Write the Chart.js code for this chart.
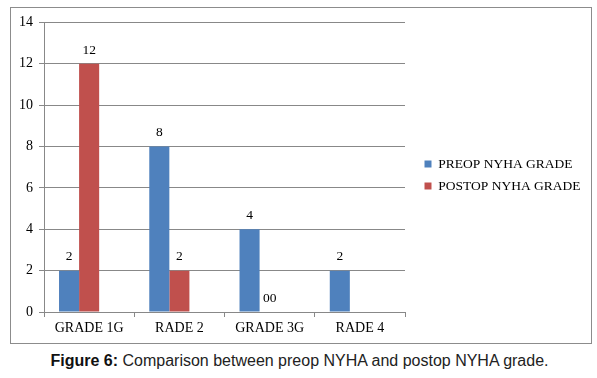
<!DOCTYPE html>
<html>
<head>
<meta charset="utf-8">
<script src="https://cdn.jsdelivr.net/npm/chart.js@4.4.1/dist/chart.umd.min.js"></script>
<style>
  body { margin: 0; background: #fff; width: 597px; height: 378px; position: relative; }
  #frame { position: absolute; left: 10px; top: 7px; width: 580px; height: 335px; border: 1px solid #8c8c8c; }
  #caption { position: absolute; left: 1px; top: 352px; width: 597px; text-align: center;
    font-family: "Liberation Sans", Arial, sans-serif; font-size: 16px; color: #222; }
  #caption b { color: #111; }
</style>
</head>
<body>
<div id="frame"><canvas id="chart" width="580" height="335"></canvas></div>
<div id="caption"><b>Figure 6:</b> Comparison between preop NYHA and postop NYHA grade.</div>
<script>
const categories = ["GRADE 1G", "RADE 2", "GRADE 3G", "RADE 4"];
const preop = [2, 8, 4, 2];
const postop = [12, 2, 0, null];
const emptySeries = [];
const preopLabels = ["2", "8", "4", "2"];
const postopLabels = ["12", "2", "00", ""];
const yTicks = [0, 2, 4, 6, 8, 10, 12, 14];

const serif = "'Liberation Serif', 'Times New Roman', serif";
const gridGray = "#888888";

// value labels above bars
const barLabels = {
  id: "barLabels",
  afterDatasetsDraw(chart) {
    const ctx = chart.ctx;
    const texts = [preopLabels, postopLabels];
    ctx.save();
    ctx.font = "13.5px " + serif;
    ctx.fillStyle = "#000";
    ctx.textAlign = "center";
    ctx.textBaseline = "bottom";
    texts.forEach((arr, di) => {
      chart.getDatasetMeta(di).data.forEach((bar, i) => {
        if (arr[i]) ctx.fillText(arr[i], bar.x, bar.y - 7);
      });
    });
    ctx.restore();
  }
};

// fixed legend width, gap between plot and legend, nudge legend up
const legendBox = {
  id: "legendBox",
  beforeUpdate(chart) {
    const lg = chart.legend;
    if (lg && !lg._wrapped) {
      const fit = lg.fit.bind(lg);
      lg.fit = function () { fit(); this.width = 186; };
      lg._wrapped = true;
    }
  },
  afterLayout(chart) {
    const lg = chart.legend;
    lg.left += 11;
    lg.right += 11;
    lg.top -= 7;
    lg.bottom -= 7;
  }
};

new Chart(document.getElementById("chart"), {
  type: "bar",
  data: {
    labels: categories,
    datasets: [
      { label: "PREOP NYHA GRADE", data: preop, backgroundColor: "#4F81BD" },
      { label: "POSTOP NYHA GRADE", data: postop, backgroundColor: "#C0504D" },
      { label: "", data: emptySeries, backgroundColor: "#9BBB59" }
    ]
  },
  options: {
    responsive: false,
    animation: false,
    categoryPercentage: 0.667,
    barPercentage: 1,
    layout: { padding: { top: 13, right: 0, bottom: 0, left: 0 } },
    scales: {
      x: {
        grid: { drawOnChartArea: false, color: gridGray, tickLength: 5 },
        border: { color: gridGray },
        ticks: { color: "#000", font: { family: serif, size: 14 }, padding: 3 },
        afterFit(scale) { scale.height = 31; }
      },
      y: {
        min: 0,
        max: 14,
        afterBuildTicks(scale) { scale.ticks = yTicks.map(v => ({ value: v })); },
        grid: { color: gridGray, tickLength: 5 },
        border: { color: gridGray },
        ticks: { color: "#000", font: { family: serif, size: 14 }, padding: 6 },
        afterFit(scale) { scale.width = 33; }
      }
    },
    plugins: {
      legend: {
        position: "right",
        labels: {
          boxWidth: 7,
          boxHeight: 7,
          padding: 8.5,
          color: "#000",
          font: { family: serif, size: 13.5 },
          filter: item => item.text !== ""
        }
      },
      tooltip: { enabled: false }
    }
  },
  plugins: [barLabels, legendBox]
});
</script>
</body>
</html>
